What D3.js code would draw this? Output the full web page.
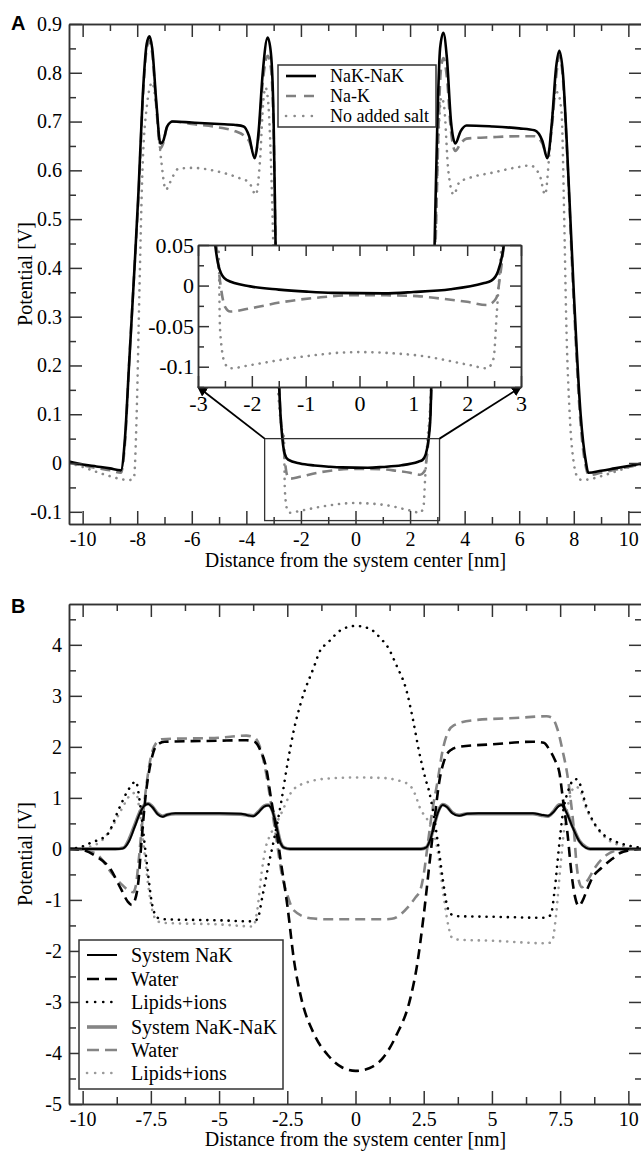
<!DOCTYPE html>
<html>
<head>
<meta charset="utf-8">
<script src="https://cdn.jsdelivr.net/npm/d3@7"></script>
<style>
  body { margin: 0; background: #fff; }
  svg { display: block; font-family: "Liberation Serif", "Times New Roman", serif; }
  .axis path, .axis line { stroke: #333; stroke-width: 1.5; }
  .axis text { font-size: 20px; fill: #000; font-family: "Liberation Serif", "Times New Roman", serif; }
  .inset .axis text { font-size: 22px; }
</style>
</head>
<body>
<div id="chart"></div>
<script>
// ---------- panel A : potential profiles [x nm, V] ----------
const aNaKNaK = [[-10.5,0.003],[-10,-0.003],[-9.5,-0.007],[-9,-0.011],[-8.6,-0.015],[-8.45,0.05],[-8.3,0.2],[-8.1,0.4],[-7.95,0.56],[-7.8,0.75],[-7.65,0.86],[-7.55,0.875],[-7.45,0.85],[-7.3,0.74],[-7.15,0.655],[-7.05,0.66],[-6.9,0.69],[-6.7,0.70],[-6,0.698],[-5,0.695],[-4.4,0.693],[-4.1,0.69],[-3.9,0.67],[-3.7,0.625],[-3.55,0.68],[-3.4,0.8],[-3.22,0.872],[-3.1,0.84],[-3.0,0.7],[-2.93,0.45],[-2.85,0.25],[-2.75,0.1],[-2.68,0.05],[-2.6,0.02],[-2.47,0.007],[-2.03,-0.001],[-1.5,-0.005],[-0.98,-0.0075],[-0.5,-0.009],[0.45,-0.0096],[1.0,-0.008],[1.69,-0.0046],[2.3,0.0028],[2.45,0.006],[2.57,0.017],[2.68,0.05],[2.75,0.1],[2.82,0.25],[2.9,0.45],[3.0,0.7],[3.1,0.85],[3.22,0.882],[3.35,0.83],[3.5,0.7],[3.66,0.655],[3.85,0.68],[4.07,0.692],[5,0.69],[6,0.686],[6.56,0.682],[6.85,0.66],[7.03,0.625],[7.2,0.7],[7.35,0.81],[7.47,0.845],[7.6,0.8],[7.75,0.65],[8.0,0.35],[8.25,0.1],[8.45,0.0],[8.53,-0.02],[9,-0.016],[9.5,-0.011],[10,-0.006],[10.5,-0.001]];
const aNaK = [[-10.5,0.0],[-10,-0.005],[-9.5,-0.01],[-9,-0.015],[-8.6,-0.02],[-8.45,0.04],[-8.3,0.2],[-8.1,0.4],[-7.95,0.55],[-7.8,0.74],[-7.65,0.85],[-7.55,0.865],[-7.45,0.84],[-7.3,0.73],[-7.15,0.645],[-7.05,0.655],[-6.9,0.69],[-6.7,0.70],[-6,0.695],[-5,0.688],[-4.4,0.68],[-4.1,0.672],[-3.9,0.66],[-3.7,0.632],[-3.55,0.67],[-3.4,0.78],[-3.22,0.835],[-3.1,0.81],[-3.0,0.68],[-2.93,0.45],[-2.85,0.25],[-2.75,0.1],[-2.66,0.05],[-2.58,0.0],[-2.5,-0.026],[-2.4,-0.032],[-2.03,-0.028],[-1.4,-0.02],[-0.8,-0.015],[-0.17,-0.012],[0.5,-0.012],[1.07,-0.013],[1.5,-0.016],[2.0,-0.02],[2.37,-0.024],[2.5,-0.019],[2.55,-0.014],[2.61,0.011],[2.68,0.05],[2.76,0.12],[2.85,0.27],[2.95,0.48],[3.05,0.7],[3.12,0.8],[3.22,0.83],[3.35,0.79],[3.5,0.68],[3.66,0.64],[3.85,0.655],[4.07,0.665],[5,0.668],[6,0.67],[6.56,0.67],[6.85,0.655],[7.03,0.63],[7.2,0.69],[7.35,0.79],[7.47,0.835],[7.6,0.79],[7.75,0.64],[8.0,0.33],[8.25,0.08],[8.45,-0.01],[8.55,-0.025],[9,-0.02],[9.5,-0.014],[10,-0.008],[10.5,-0.003]];
const aNoSalt = [[-10.5,0.0],[-10,-0.008],[-9.5,-0.018],[-9,-0.027],[-8.6,-0.033],[-8.3,-0.035],[-8.12,-0.03],[-8.02,0.1],[-7.92,0.35],[-7.82,0.58],[-7.65,0.73],[-7.45,0.78],[-7.3,0.73],[-7.12,0.62],[-6.95,0.56],[-6.8,0.575],[-6.5,0.603],[-6,0.605],[-5,0.597],[-4.3,0.585],[-3.9,0.575],[-3.65,0.55],[-3.5,0.62],[-3.38,0.74],[-3.3,0.77],[-3.2,0.74],[-3.1,0.62],[-3.0,0.42],[-2.9,0.22],[-2.8,0.12],[-2.7,0.07],[-2.62,0.05],[-2.59,-0.055],[-2.5,-0.096],[-2.4,-0.102],[-2.03,-0.098],[-1.1,-0.088],[-0.05,-0.082],[1.07,-0.086],[2.05,-0.098],[2.37,-0.102],[2.49,-0.09],[2.55,-0.034],[2.64,0.05],[2.72,0.1],[2.85,0.28],[2.95,0.5],[3.05,0.68],[3.15,0.75],[3.25,0.73],[3.4,0.6],[3.6,0.55],[3.8,0.575],[4.2,0.585],[5,0.595],[6,0.607],[6.4,0.61],[6.75,0.59],[6.95,0.55],[7.1,0.63],[7.25,0.73],[7.4,0.76],[7.55,0.72],[7.65,0.5],[7.72,0.3],[7.85,0.1],[8.0,0.0],[8.15,-0.03],[8.3,-0.035],[8.6,-0.033],[9,-0.027],[9.5,-0.018],[10,-0.009],[10.5,-0.002]];
const legendA = ["NaK-NaK", "Na-K", "No added salt"];

// ---------- panel B : potential contributions [x nm, V] ----------
const bSysNaK = [[-10.5,0],[-9.5,0],[-8.8,0],[-8.53,0.01],[-8.3,0.15],[-8.1,0.42],[-7.9,0.7],[-7.75,0.84],[-7.6,0.88],[-7.45,0.82],[-7.25,0.68],[-7.07,0.63],[-6.9,0.67],[-6.6,0.7],[-5,0.7],[-4.2,0.69],[-3.95,0.66],[-3.75,0.64],[-3.55,0.72],[-3.35,0.83],[-3.2,0.85],[-3.05,0.75],[-2.9,0.45],[-2.75,0.12],[-2.6,0.02],[-2.4,0],[2.4,0],[2.6,0.03],[2.75,0.2],[2.9,0.5],[3.05,0.75],[3.2,0.86],[3.35,0.82],[3.55,0.7],[3.8,0.65],[4.1,0.69],[4.5,0.7],[6.5,0.7],[6.8,0.67],[7.05,0.65],[7.25,0.72],[7.45,0.84],[7.55,0.86],[7.7,0.75],[7.95,0.43],[8.2,0.15],[8.45,0.02],[8.6,0],[10.5,0]];
const bWaterNaK = [[-10.5,0],[-10,-0.02],[-9.5,-0.15],[-9,-0.38],[-8.6,-0.78],[-8.35,-1.03],[-8.2,-1.1],[-8.08,-1.0],[-7.95,-0.6],[-7.85,0.1],[-7.7,1.0],[-7.5,1.7],[-7.3,2.02],[-7.0,2.1],[-5,2.12],[-4,2.13],[-3.7,2.1],[-3.5,1.95],[-3.26,1.55],[-3.1,1.0],[-2.9,0.37],[-2.75,-0.2],[-2.5,-1.1],[-2.25,-2.2],[-2,-2.9],[-1.5,-3.65],[-1,-4.05],[-0.5,-4.28],[0,-4.35],[0.5,-4.3],[1,-4.1],[1.5,-3.65],[2,-2.95],[2.25,-2.3],[2.5,-1.3],[2.75,-0.1],[2.9,0.6],[3.08,1.35],[3.3,1.8],[3.5,1.94],[3.8,2.0],[5,2.05],[6.5,2.1],[6.9,2.08],[7.1,1.95],[7.3,1.75],[7.47,1.5],[7.62,0.9],[7.77,0.3],[7.92,-0.5],[8.05,-0.95],[8.18,-1.12],[8.32,-1.02],[8.5,-0.78],[8.7,-0.55],[9.0,-0.38],[9.4,-0.2],[9.7,-0.08],[10,-0.03],[10.5,0]];
const bLipNaK = [[-10.5,0],[-10,0.05],[-9.7,0.12],[-9.1,0.28],[-8.64,0.82],[-8.3,1.18],[-8.05,1.32],[-7.9,0.9],[-7.75,0.2],[-7.6,-0.5],[-7.45,-1.1],[-7.25,-1.35],[-7.0,-1.38],[-5,-1.4],[-3.8,-1.42],[-3.6,-1.38],[-3.4,-0.9],[-3.2,-0.35],[-3.0,0.15],[-2.85,0.55],[-2.71,0.96],[-2.5,1.65],[-2.25,2.35],[-2.0,2.87],[-1.5,3.6],[-1.32,3.86],[-1.0,4.05],[-0.5,4.3],[0,4.37],[0.5,4.32],[1.0,4.08],[1.13,4.0],[1.5,3.6],[1.87,3.1],[2.1,2.55],[2.34,1.88],[2.55,1.4],[2.71,1.1],[2.9,0.55],[3.05,0.0],[3.2,-0.6],[3.35,-1.1],[3.5,-1.28],[3.8,-1.32],[5,-1.33],[6.9,-1.35],[7.15,-1.3],[7.3,-0.8],[7.45,0.0],[7.6,0.7],[7.8,1.15],[8.05,1.37],[8.2,1.3],[8.45,0.85],[8.7,0.55],[9.05,0.3],[9.5,0.15],[9.9,0.08],[10.5,0.02]];
const bSysNaKNaK = [[-10.5,0],[-9.5,0],[-8.8,0],[-8.5,0.02],[-8.3,0.18],[-8.1,0.45],[-7.9,0.72],[-7.75,0.85],[-7.6,0.89],[-7.45,0.83],[-7.25,0.69],[-7.07,0.64],[-6.9,0.67],[-6.6,0.69],[-5,0.69],[-4.2,0.68],[-3.95,0.66],[-3.75,0.65],[-3.55,0.73],[-3.35,0.84],[-3.2,0.86],[-3.05,0.76],[-2.9,0.46],[-2.75,0.13],[-2.6,0.02],[-2.4,0],[2.4,0],[2.6,0.03],[2.75,0.2],[2.9,0.5],[3.05,0.76],[3.2,0.87],[3.35,0.83],[3.55,0.71],[3.8,0.66],[4.1,0.69],[4.5,0.69],[6.5,0.69],[6.8,0.66],[7.05,0.64],[7.25,0.73],[7.45,0.86],[7.55,0.87],[7.7,0.76],[7.95,0.45],[8.2,0.16],[8.45,0.03],[8.6,0],[10.5,0]];
const bWaterNaKNaK = [[-10.5,0],[-10,-0.02],[-9.5,-0.1],[-8.9,-0.5],[-8.6,-0.68],[-8.3,-0.82],[-8.15,-0.85],[-8.05,-0.72],[-7.95,-0.25],[-7.8,0.6],[-7.65,1.3],[-7.5,1.8],[-7.3,2.08],[-7.1,2.15],[-5,2.18],[-4,2.22],[-3.7,2.18],[-3.5,2.0],[-3.3,1.55],[-3.1,0.9],[-2.9,0.2],[-2.7,-0.5],[-2.5,-0.9],[-2.27,-1.2],[-1.65,-1.36],[-1,-1.38],[0,-1.38],[1,-1.38],[1.33,-1.37],[1.94,-1.13],[2.2,-0.95],[2.38,-0.8],[2.5,-0.5],[2.65,0.1],[2.8,0.7],[3.0,1.3],[3.2,1.95],[3.4,2.3],[3.6,2.42],[4.3,2.52],[6,2.57],[7.0,2.6],[7.2,2.57],[7.4,2.35],[7.6,1.9],[7.75,1.5],[7.9,0.9],[8.0,0.4],[8.1,-0.3],[8.2,-0.65],[8.3,-0.75],[8.5,-0.62],[8.8,-0.35],[9.2,-0.12],[9.6,-0.03],[10.5,0]];
const bLipNaKNaK = [[-10.5,0],[-10,0.02],[-9.4,0.12],[-8.9,0.45],[-8.6,0.75],[-8.2,1.08],[-8.05,1.1],[-7.9,0.7],[-7.75,0.0],[-7.6,-0.7],[-7.45,-1.2],[-7.25,-1.42],[-7.0,-1.45],[-5,-1.48],[-3.75,-1.52],[-3.6,-1.2],[-3.45,-0.5],[-3.3,0.0],[-3.1,0.3],[-2.9,0.5],[-2.7,0.72],[-2.3,1.15],[-1.8,1.3],[-1,1.38],[0,1.4],[1,1.39],[1.5,1.35],[1.98,1.25],[2.2,1.05],[2.35,0.82],[2.7,0.5],[3.0,0.0],[3.2,-0.8],[3.4,-1.5],[3.55,-1.75],[3.8,-1.78],[5,-1.8],[7.0,-1.85],[7.2,-1.82],[7.35,-1.3],[7.5,-0.4],[7.65,0.4],[7.85,1.0],[8.05,1.22],[8.2,1.18],[8.45,0.8],[8.8,0.45],[9.2,0.2],[9.7,0.07],[10.5,0]];
const legendB = ["System NaK", "Water", "Lipids+ions", "System NaK-NaK", "Water", "Lipids+ions"];

// ---------- ticks ----------
const xTicksA = [-10, -8, -6, -4, -2, 0, 2, 4, 6, 8, 10];
const xMinorA = [-9, -7, -5, -3, -1, 1, 3, 5, 7, 9];
const yTicksA = [-0.1, 0, 0.1, 0.2, 0.3, 0.4, 0.5, 0.6, 0.7, 0.8, 0.9];
const yMinorA = [-0.05, 0.05, 0.15, 0.25, 0.35, 0.45, 0.55, 0.65, 0.75, 0.85];
const xTicksB = [-10, -7.5, -5, -2.5, 0, 2.5, 5, 7.5, 10];
const xMinorB = [-8.75, -6.25, -3.75, -1.25, 1.25, 3.75, 6.25, 8.75];
const yTicksB = [-5, -4, -3, -2, -1, 0, 1, 2, 3, 4];
const yMinorB = [-4.5, -3.5, -2.5, -1.5, -0.5, 0.5, 1.5, 2.5, 3.5, 4.5];
const xTicksIn = [-3, -2, -1, 0, 1, 2, 3];
const xMinorIn = [-2.5, -1.5, -0.5, 0.5, 1.5, 2.5];
const yTicksIn = [-0.1, -0.05, 0, 0.05];
const yMinorIn = [-0.125, -0.075, -0.025, 0.025];
const zoomBox = { x0: -3.33, x1: 3.08, y0: -0.118, y1: 0.05 };

// ---------- layout ----------
const W = 641, H = 1151;
const svg = d3.select('#chart').append('svg').attr('width', W).attr('height', H);
const defs = svg.append('defs');

const xA = d3.scaleLinear().domain([-10.5, 10.5]).range([69, 642]);
const yA = d3.scaleLinear().domain([-0.125, 0.9]).range([524, 24]);
const xB = d3.scaleLinear().domain([-10.5, 10.5]).range([69, 642]);
const yB = d3.scaleLinear().domain([-5, 4.8]).range([1104, 604]);
const xI = d3.scaleLinear().domain([-3, 3]).range([198, 521]);
const yI = d3.scaleLinear().domain([-0.125, 0.05]).range([387, 245]);

const fmt = d => String(d);

function clip(id, x, y) {
  defs.append('clipPath').attr('id', id).append('rect')
    .attr('x', x.range()[0]).attr('y', y.range()[1])
    .attr('width', x.range()[1] - x.range()[0])
    .attr('height', y.range()[0] - y.range()[1]);
}

function frame(g, x, y, t) {
  const bottom = y.range()[0], top = y.range()[1];
  const left = x.range()[0], right = x.range()[1];
  const put = (axis, tr, labels) => {
    const a = g.append('g').attr('class', 'axis').attr('transform', tr).call(axis);
    if (!labels) a.selectAll('text').remove();
    return a;
  };
  put(d3.axisBottom(x).tickValues(t.xMajor).tickSize(-t.major).tickSizeOuter(0).tickPadding(t.xPad).tickFormat(fmt), `translate(0,${bottom})`, true);
  put(d3.axisBottom(x).tickValues(t.xMinor).tickSize(-t.minor).tickSizeOuter(0), `translate(0,${bottom})`);
  put(d3.axisTop(x).tickValues(t.xMajor).tickSize(-t.major).tickSizeOuter(0), `translate(0,${top})`);
  put(d3.axisTop(x).tickValues(t.xMinor).tickSize(-t.minor).tickSizeOuter(0), `translate(0,${top})`);
  put(d3.axisLeft(y).tickValues(t.yMajor).tickSize(-t.major).tickSizeOuter(0).tickPadding(t.yPad).tickFormat(fmt), `translate(${left},0)`, true);
  put(d3.axisLeft(y).tickValues(t.yMinor).tickSize(-t.minor).tickSizeOuter(0), `translate(${left},0)`);
  put(d3.axisRight(y).tickValues(t.yMajor).tickSize(-t.major).tickSizeOuter(0), `translate(${right},0)`);
  put(d3.axisRight(y).tickValues(t.yMinor).tickSize(-t.minor).tickSizeOuter(0), `translate(${right},0)`);
}

function drawSeries(g, x, y, list, clipId) {
  const line = d3.line().x(d => x(d[0])).y(d => y(d[1])).curve(d3.curveMonotoneX);
  const cg = g.append('g').attr('clip-path', `url(#${clipId})`);
  list.forEach(s => {
    cg.append('path').datum(s.data)
      .attr('d', line)
      .attr('fill', 'none')
      .attr('stroke', s.color)
      .attr('stroke-width', s.width)
      .attr('stroke-dasharray', s.dash || null)
      .attr('stroke-linecap', s.cap || 'butt')
      .attr('stroke-linejoin', 'round');
  });
}

function legend(g, box, items, styles, fontSize, rowY) {
  g.append('rect').attr('x', box.x).attr('y', box.y).attr('width', box.w).attr('height', box.h)
    .attr('fill', '#fff').attr('stroke', '#333').attr('stroke-width', 1.5);
  items.forEach((name, i) => {
    const yy = rowY[i], s = styles[i];
    g.append('line').attr('x1', box.x + 8).attr('x2', box.x + 38).attr('y1', yy).attr('y2', yy)
      .attr('stroke', s.color).attr('stroke-width', s.width)
      .attr('stroke-dasharray', s.legendDash || s.dash || null)
      .attr('stroke-linecap', s.cap || 'butt');
    g.append('text').attr('x', box.x + 52).attr('y', yy).attr('dy', '0.33em')
      .attr('font-size', fontSize).text(name);
  });
}

// ---------- styles ----------
const DOT = '0.1,7';
const stA = [
  { color: '#000', width: 2.6 },
  { color: '#808080', width: 2.6, dash: '10,6', legendDash: '10,8' },
  { color: '#8a8a8a', width: 2.6, dash: DOT, cap: 'round', legendDash: '0.1,8.5' }
];
const stB = [
  { color: '#000', width: 2 },
  { color: '#000', width: 2.6, dash: '10,6', legendDash: '12,6' },
  { color: '#000', width: 2.6, dash: DOT, cap: 'round', legendDash: '0.1,8' },
  { color: '#858585', width: 3.6 },
  { color: '#858585', width: 2.6, dash: '10,6', legendDash: '12,6' },
  { color: '#9a9a9a', width: 2.6, dash: DOT, cap: 'round', legendDash: '0.1,8' }
];

// ---------- panel A ----------
const gA = svg.append('g');
clip('clipA', xA, yA);
drawSeries(gA, xA, yA, [
  { data: aNoSalt, ...stA[2] },
  { data: aNaK, ...stA[1] },
  { data: aNaKNaK, ...stA[0] }
], 'clipA');
frame(gA, xA, yA, { xMajor: xTicksA, xMinor: xMinorA, yMajor: yTicksA, yMinor: yMinorA, major: 13, minor: 7, xPad: 8, yPad: 7 });

// zoom box and arrows to the inset
gA.append('rect')
  .attr('x', xA(zoomBox.x0)).attr('y', yA(zoomBox.y1))
  .attr('width', xA(zoomBox.x1) - xA(zoomBox.x0))
  .attr('height', yA(zoomBox.y0) - yA(zoomBox.y1))
  .attr('fill', 'none').attr('stroke', '#333').attr('stroke-width', 1.3);
defs.append('marker').attr('id', 'arrow').attr('viewBox', '0 0 10 10')
  .attr('refX', 9).attr('refY', 5).attr('markerWidth', 10).attr('markerHeight', 10)
  .attr('markerUnits', 'userSpaceOnUse').attr('orient', 'auto')
  .append('path').attr('d', 'M0,0 L10,5 L0,10 z').attr('fill', '#000');
[[zoomBox.x0, xI.domain()[0]], [zoomBox.x1, xI.domain()[1]]].forEach(([from, to]) => {
  gA.append('line')
    .attr('x1', xA(from)).attr('y1', yA(zoomBox.y1))
    .attr('x2', xI(to)).attr('y2', yI(yI.domain()[0]))
    .attr('stroke', '#000').attr('stroke-width', 1.8)
    .attr('marker-end', 'url(#arrow)');
});

// inset
const gI = svg.append('g').attr('class', 'inset');
gI.append('rect').attr('x', 198).attr('y', 245).attr('width', 323).attr('height', 142).attr('fill', '#fff');
clip('clipI', xI, yI);
drawSeries(gI, xI, yI, [
  { data: aNoSalt, ...stA[2] },
  { data: aNaK, ...stA[1] },
  { data: aNaKNaK, ...stA[0] }
], 'clipI');
frame(gI, xI, yI, { xMajor: xTicksIn, xMinor: xMinorIn, yMajor: yTicksIn, yMinor: yMinorIn, major: 11, minor: 6, xPad: 8, yPad: 4 });

legend(gA, { x: 278, y: 65, w: 158, h: 62 }, legendA, stA, 18, [76, 96, 116]);

svg.append('text').attr('x', 11).attr('y', 30).attr('font-family', '"Liberation Sans", Arial, sans-serif')
  .attr('font-weight', 'bold').attr('font-size', 20).text('A');
svg.append('text').attr('transform', `translate(32,${(yA.range()[0] + yA.range()[1]) / 2}) rotate(-90)`)
  .attr('text-anchor', 'middle').attr('font-size', 20).text('Potential [V]');
svg.append('text').attr('x', (xA.range()[0] + xA.range()[1]) / 2).attr('y', 567)
  .attr('text-anchor', 'middle').attr('font-size', 20).text('Distance from the system center [nm]');

// ---------- panel B ----------
const gB = svg.append('g');
clip('clipB', xB, yB);
drawSeries(gB, xB, yB, [
  { data: bLipNaKNaK, ...stB[5] },
  { data: bWaterNaKNaK, ...stB[4] },
  { data: bSysNaKNaK, ...stB[3] },
  { data: bLipNaK, ...stB[2] },
  { data: bWaterNaK, ...stB[1] },
  { data: bSysNaK, ...stB[0] }
], 'clipB');
frame(gB, xB, yB, { xMajor: xTicksB, xMinor: xMinorB, yMajor: yTicksB, yMinor: yMinorB, major: 13, minor: 7, xPad: 8, yPad: 7 });
legend(gB, { x: 79, y: 940, w: 204, h: 149 }, legendB, stB, 20, [955, 979, 1002, 1027, 1050, 1073]);

svg.append('text').attr('x', 11).attr('y', 613).attr('font-family', '"Liberation Sans", Arial, sans-serif')
  .attr('font-weight', 'bold').attr('font-size', 20).text('B');
svg.append('text').attr('transform', `translate(32,${(yB.range()[0] + yB.range()[1]) / 2}) rotate(-90)`)
  .attr('text-anchor', 'middle').attr('font-size', 20).text('Potential [V]');
svg.append('text').attr('x', (xB.range()[0] + xB.range()[1]) / 2).attr('y', 1146)
  .attr('text-anchor', 'middle').attr('font-size', 20).text('Distance from the system center [nm]');
</script>
</body>
</html>
